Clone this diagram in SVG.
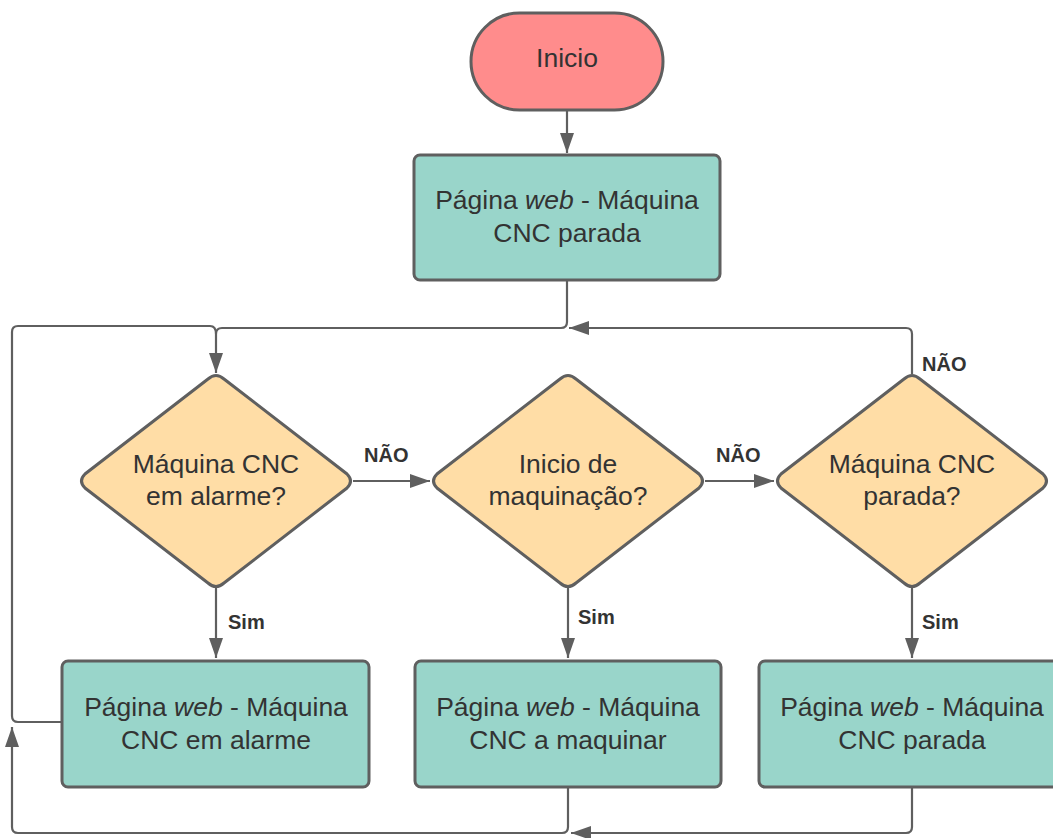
<svg xmlns="http://www.w3.org/2000/svg" width="1053" height="838" viewBox="0 0 1053 838">
  <style>
    .node { stroke: #5f5f5f; stroke-width: 3; }
    .start { fill: #ff8c8c; }
    .proc { fill: #99d5ca; }
    .dec { fill: #ffdda6; }
    .txt { font-family: "Liberation Sans", Arial, sans-serif; font-size: 26.5px; fill: #333333; text-anchor: middle; }
    .lbl { font-family: "Liberation Sans", Arial, sans-serif; font-size: 20px; font-weight: bold; fill: #333333; }
    .edge { fill: none; stroke: #5f5f5f; stroke-width: 2.2; }
  </style>
  <defs>
    <marker id="arrowBig" markerWidth="20" markerHeight="14" refX="20" refY="7" orient="auto" markerUnits="userSpaceOnUse">
      <path d="M0,0 L20,7 L0,14 Z" fill="#5f5f5f"/>
    </marker>
  </defs>

  <!-- connectors -->
  <g id="connectors">
    <!-- start to first page -->
    <path class="edge" d="M567,111 V153" marker-end="url(#arrowBig)"/>
    <!-- first page down to alarm decision -->
    <path class="edge" d="M567,281 V322 Q567,328 561,328 H222 Q216,328 216,334 V373" marker-end="url(#arrowBig)"/>
    <!-- loop from alarm page back to alarm decision -->
    <path class="edge" d="M62,722 H18 Q12,722 12,716 V332 Q12,326 18,326 H210 Q216,326 216,334"/>
    <!-- NAO from alarm to machining -->
    <path class="edge" d="M353,481 H430" marker-end="url(#arrowBig)"/>
    <!-- NAO from machining to stopped -->
    <path class="edge" d="M705,481 H774" marker-end="url(#arrowBig)"/>
    <!-- NAO from stopped back to top -->
    <path class="edge" d="M912,374 V334 Q912,328 906,328 H569" marker-end="url(#arrowBig)"/>
    <!-- Sim branches -->
    <path class="edge" d="M216,588 V658" marker-end="url(#arrowBig)"/>
    <path class="edge" d="M568,588 V658" marker-end="url(#arrowBig)"/>
    <path class="edge" d="M912,588 V658" marker-end="url(#arrowBig)"/>
    <!-- machining page back around to left side -->
    <path class="edge" d="M568,788 V827 Q568,833 562,833 H18 Q12,833 12,827 V727" marker-end="url(#arrowBig)"/>
    <!-- stopped page back to bottom loop -->
    <path class="edge" d="M912,788 V827 Q912,833 906,833 H571" marker-end="url(#arrowBig)"/>
    <!-- labels -->
    <text class="lbl" x="364" y="462">NÃO</text>
    <text class="lbl" x="716" y="462">NÃO</text>
    <text class="lbl" x="922" y="371">NÃO</text>
    <text class="lbl" x="228" y="629">Sim</text>
    <text class="lbl" x="578" y="624">Sim</text>
    <text class="lbl" x="922" y="629">Sim</text>
  </g>

  <g id="inicio">
    <rect class="node start" x="471" y="13" width="192" height="97" rx="48.5"/>
    <text class="txt" x="567" y="67">Inicio</text>
  </g>

  <g id="pagina-parada-topo">
    <rect class="node proc" x="414" y="155" width="306" height="125" rx="6"/>
    <text class="txt" x="567" y="209">Página <tspan font-style="italic">web</tspan> - Máquina</text>
    <text class="txt" x="567" y="242">CNC parada</text>
  </g>

  <g id="decisao-alarme">
    <path class="node dec" d="M208,379 Q216,372 224,379 L347,474 Q354,481 347,488 L224,583 Q216,590 208,583 L85,488 Q78,481 85,474 Z"/>
    <text class="txt" x="216" y="473">Máquina CNC</text>
    <text class="txt" x="216" y="505">em alarme?</text>
  </g>

  <g id="decisao-maquinacao">
    <path class="node dec" d="M560,379 Q568,372 576,379 L699,474 Q706,481 699,488 L576,583 Q568,590 560,583 L437,488 Q430,481 437,474 Z"/>
    <text class="txt" x="568" y="473">Inicio de</text>
    <text class="txt" x="568" y="505">maquinação?</text>
  </g>

  <g id="decisao-parada">
    <path class="node dec" d="M904,379 Q912,372 920,379 L1043,474 Q1050,481 1043,488 L920,583 Q912,590 904,583 L781,488 Q774,481 781,474 Z"/>
    <text class="txt" x="912" y="473">Máquina CNC</text>
    <text class="txt" x="912" y="505">parada?</text>
  </g>

  <g id="pagina-alarme">
    <rect class="node proc" x="62" y="661" width="307" height="126" rx="6"/>
    <text class="txt" x="216" y="716">Página <tspan font-style="italic">web</tspan> - Máquina</text>
    <text class="txt" x="216" y="749">CNC em alarme</text>
  </g>

  <g id="pagina-maquinar">
    <rect class="node proc" x="415" y="661" width="306" height="126" rx="6"/>
    <text class="txt" x="568" y="716">Página <tspan font-style="italic">web</tspan> - Máquina</text>
    <text class="txt" x="568" y="749">CNC a maquinar</text>
  </g>

  <g id="pagina-parada">
    <rect class="node proc" x="759" y="661" width="306" height="126" rx="6"/>
    <text class="txt" x="912" y="716">Página <tspan font-style="italic">web</tspan> - Máquina</text>
    <text class="txt" x="912" y="749">CNC parada</text>
  </g>
</svg>
